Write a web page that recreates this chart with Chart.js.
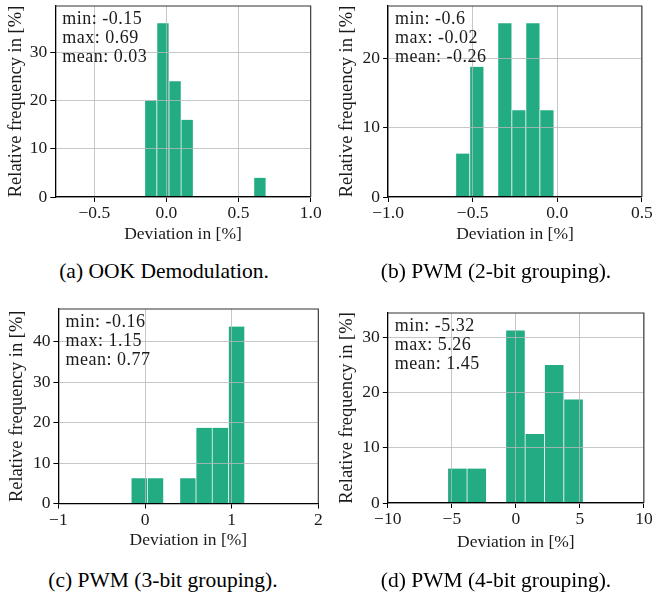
<!DOCTYPE html>
<html><head><meta charset="utf-8">
<script src="https://cdn.jsdelivr.net/npm/chart.js@4.4.0/dist/chart.umd.min.js"></script>
<style>
html,body{margin:0;padding:0;width:652px;height:600px;overflow:hidden;background:#fff;}
body{position:relative;}
canvas{position:absolute;}
.cap{position:absolute;white-space:nowrap;font-family:"Liberation Serif","Times New Roman",serif;font-size:21.5px;line-height:normal;transform:translateX(-50%);color:#000;}
</style></head><body>
<script>
// ---------------- DATA ----------------
// (a) OOK Demodulation
const binCentersA = [-0.108, -0.024, 0.060, 0.144, 0.228, 0.312, 0.396, 0.480, 0.564, 0.648];
const freqA       = [20, 36, 24, 16, 0, 0, 0, 0, 0, 4];
const statsA      = ["min: -0.15", "max: 0.69", "mean: 0.03"];
const xTicksA     = [-0.5, 0.0, 0.5, 1.0];
const yTicksA     = [0, 10, 20, 30];
const xRangeA     = [-0.77, 1.0];
const yRangeA     = [0, 39.6];
const captionA    = "(a) OOK Demodulation.";

// (b) PWM 2-bit grouping
const binCentersB = [-0.5586, -0.4757, -0.3929, -0.3100, -0.2271, -0.1443, -0.0614];
const freqB       = [6.25, 18.75, 0, 25, 12.5, 25, 12.5];
const statsB      = ["min: -0.6", "max: -0.02", "mean: -0.26"];
const xTicksB     = [-1.0, -0.5, 0.0, 0.5];
const yTicksB     = [0, 10, 20];
const xRangeB     = [-1.0, 0.5];
const yRangeB     = [0, 27.5];
const captionB    = "(b) PWM (2-bit grouping).";

// (c) PWM 3-bit grouping
const binCentersC = [-0.0664, 0.1207, 0.3079, 0.4950, 0.6821, 0.8693, 1.0564];
const freqC       = [6.25, 6.25, 0, 6.25, 18.75, 18.75, 43.75];
const statsC      = ["min: -0.16", "max: 1.15", "mean: 0.77"];
const xTicksC     = [-1, 0, 1, 2];
const yTicksC     = [0, 10, 20, 30, 40];
const xRangeC     = [-1, 2];
const yRangeC     = [0, 48.1];
const captionC    = "(c) PWM (3-bit grouping).";

// (d) PWM 4-bit grouping
const binCentersD = [-4.5643, -3.0529, -1.5414, -0.0300, 1.4814, 2.9929, 4.5043];
const freqD       = [6.25, 6.25, 0, 31.25, 12.5, 25, 18.75];
const statsD      = ["min: -5.32", "max: 5.26", "mean: 1.45"];
const xTicksD     = [-10, -5, 0, 5, 10];
const yTicksD     = [0, 10, 20, 30];
const xRangeD     = [-10, 10];
const yRangeD     = [0, 34.4];
const captionD    = "(d) PWM (4-bit grouping).";

const xTitle = "Deviation in [%]";
const yTitle = "Relative frequency in [%]";

// ---------------- LAYOUT / STYLE ----------------
const FONT = "'Liberation Serif','Times New Roman',serif";
const BAR = "#23ab83";
const TEXT = "#1a1a1a";
const X_TITLE_SIZE = 17.5, Y_TITLE_SIZE = 18.5, TICK_SIZE = 17.5, STAT_SIZE = 18;

const panels = [
  {bins: binCentersA, freq: freqA, stats: statsA, xt: xTicksA, yt: yTicksA, xr: xRangeA, yr: yRangeA, dec: 1, cap: captionA,
   area: [55, 6, 311, 196], yTitleX: 15.8, xTitleY: 233, capX: 164, capBase: 278.3},
  {bins: binCentersB, freq: freqB, stats: statsB, xt: xTicksB, yt: yTicksB, xr: xRangeB, yr: yRangeB, dec: 1, cap: captionB,
   area: [388, 6, 642, 196], yTitleX: 347, xTitleY: 233, capX: 496, capBase: 278.3},
  {bins: binCentersC, freq: freqC, stats: statsC, xt: xTicksC, yt: yTicksC, xr: xRangeC, yr: yRangeC, dec: 0, cap: captionC,
   area: [58, 309.3, 317.3, 503.7], yTitleX: 16.7, xTitleY: 540.7, capX: 163, capBase: 587.5},
  {bins: binCentersD, freq: freqD, stats: statsD, xt: xTicksD, yt: yTicksD, xr: xRangeD, yr: yRangeD, dec: 0, cap: captionD,
   area: [388, 313.3, 644.3, 504.3], yTitleX: 347.3, xTitleY: 543.3, capX: 496, capBase: 587.5}
];

const fmt = (v, dec) => v.toFixed(dec).replace('-', '\u2212');

const framePlugin = {
  id: 'frame',
  afterDraw(chart) {
    const {ctx, chartArea: a} = chart;
    ctx.save();
    ctx.strokeStyle = '#333';
    ctx.lineWidth = 1.1;
    ctx.beginPath();
    ctx.moveTo(a.left, a.top);
    ctx.lineTo(a.right, a.top);
    ctx.lineTo(a.right, a.bottom);
    ctx.stroke();
    ctx.restore();
  }
};

const statsPlugin = {
  id: 'stats',
  afterDraw(chart, args, opts) {
    const {ctx, chartArea: a} = chart;
    ctx.save();
    ctx.font = STAT_SIZE + "px " + FONT;
    ctx.fillStyle = TEXT;
    ctx.textAlign = 'left';
    ctx.textBaseline = 'alphabetic';
    if ('letterSpacing' in ctx) ctx.letterSpacing = '0.5px';
    opts.lines.forEach((t, i) => ctx.fillText(t, a.left + 7, a.top + 17.5 + i * 19));
    ctx.restore();
  }
};

Chart.defaults.font.family = FONT;
Chart.defaults.color = TEXT;

panels.forEach(p => {
  const [l, t, r, b] = p.area;
  const L = p.yTitleX - Y_TITLE_SIZE * 1.2 / 2;
  const yw = l - L;
  const pt = 24, T = t - pt;
  const xh = p.xTitleY + X_TITLE_SIZE * 1.2 / 2 - b;
  const pb = 4;
  const H = b + xh + pb - T;
  const pr = 30;
  const W = r + pr - L;

  const cv = document.createElement('canvas');
  cv.width = Math.round(W); cv.height = Math.round(H);
  cv.style.left = L + 'px'; cv.style.top = T + 'px';
  cv.style.width = Math.round(W) + 'px'; cv.style.height = Math.round(H) + 'px';
  document.body.appendChild(cv);

  const cap = document.createElement('div');
  cap.className = 'cap';
  cap.textContent = p.cap;
  cap.style.left = p.capX + 'px';
  cap.style.top = (p.capBase - 21.5 * 0.891) + 'px';
  document.body.appendChild(cap);

  const gridOpts = () => ({color: 'rgba(185,185,185,0.8)', lineWidth: 1, z: 1, offset: false, drawTicks: true,
                    tickLength: 5, tickColor: '#000', tickWidth: 1});
  new Chart(cv, {
    type: 'bar',
    data: {
      datasets: [{
        data: p.bins.map((c, i) => ({x: c, y: p.freq[i]})),
        backgroundColor: BAR,
        borderColor: '#ffffff',
        borderWidth: {left: 0.7, right: 0.7, top: 0, bottom: 0},
        borderSkipped: 'start',
        barPercentage: 1,
        categoryPercentage: 1
      }]
    },
    options: {
      responsive: false,
      animation: false,
      devicePixelRatio: 1,
      layout: {padding: {left: 0, top: pt, right: pr + (W - Math.round(W)), bottom: pb + (H - Math.round(H))}},
      plugins: {legend: {display: false}, tooltip: {enabled: false}, stats: {lines: p.stats}},
      scales: {
        x: {
          type: 'linear', min: p.xr[0], max: p.xr[1], offset: false,
          grid: gridOpts(),
          border: {display: true, color: '#000', width: 1.3, z: 2},
          ticks: {z: 2, autoSkip: false, maxRotation: 0, padding: 1, color: TEXT,
                  font: {size: TICK_SIZE}, callback: v => fmt(v, p.dec)},
          afterBuildTicks: s => { s.ticks = p.xt.map(v => ({value: v})); },
          afterFit: s => { s.height = xh; },
          title: {display: true, text: xTitle, color: TEXT, font: {size: X_TITLE_SIZE}, padding: 0}
        },
        y: {
          type: 'linear', min: p.yr[0], max: p.yr[1],
          grid: gridOpts(),
          border: {display: true, color: '#000', width: 1.3, z: 2},
          ticks: {z: 2, autoSkip: false, padding: 3, color: TEXT,
                  font: {size: TICK_SIZE}, callback: v => fmt(v, 0)},
          afterBuildTicks: s => { s.ticks = p.yt.map(v => ({value: v})); },
          afterFit: s => { s.width = yw; },
          title: {display: true, text: yTitle, color: TEXT, font: {size: Y_TITLE_SIZE}, padding: 0}
        }
      }
    },
    plugins: [framePlugin, statsPlugin]
  });
});
</script>
</body></html>
